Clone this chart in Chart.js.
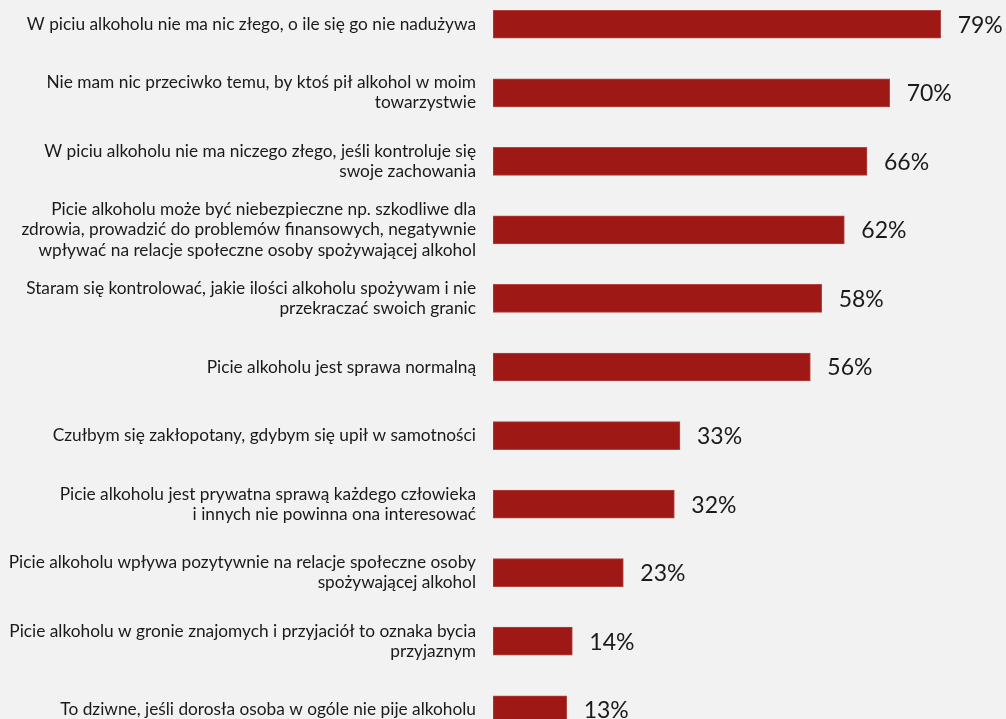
<!DOCTYPE html>
<html lang="pl">
<head>
    <meta charset="UTF-8">
    <title>Postawy wobec alkoholu</title>
    <script src="https://cdn.jsdelivr.net/npm/chart.js"></script>
    <style>
        html, body {
            margin: 0;
            padding: 0;
            background-color: #F2F2F2;
            overflow: hidden;
        }
        .wrap {
            position: absolute;
            left: 0;
            top: -10px;
            width: 1006px;
            height: 754px;
        }
    </style>
</head>
<body>

<div class="wrap">
    <canvas id="barChart"></canvas>
</div>

<script>
// Stwierdzenia (kolejne linie = zawijanie tekstu)
const statements = [
    ['W piciu alkoholu nie ma nic złego, o ile się go nie nadużywa'],
    ['Nie mam nic przeciwko temu, by ktoś pił alkohol w moim', 'towarzystwie'],
    ['W piciu alkoholu nie ma niczego złego, jeśli kontroluje się', 'swoje zachowania'],
    ['Picie alkoholu może być niebezpieczne np. szkodliwe dla', 'zdrowia, prowadzić do problemów finansowych, negatywnie', 'wpływać na relacje społeczne osoby spożywającej alkohol'],
    ['Staram się kontrolować, jakie ilości alkoholu spożywam i nie', 'przekraczać swoich granic'],
    ['Picie alkoholu jest sprawa normalną'],
    ['Czułbym się zakłopotany, gdybym się upił w samotności'],
    ['Picie alkoholu jest prywatna sprawą każdego człowieka', 'i innych nie powinna ona interesować'],
    ['Picie alkoholu wpływa pozytywnie na relacje społeczne osoby', 'spożywającej alkohol'],
    ['Picie alkoholu w gronie znajomych i przyjaciół to oznaka bycia', 'przyjaznym'],
    ['To dziwne, jeśli dorosła osoba w ogóle nie pije alkoholu']
];

// Odsetek odpowiedzi (%)
const shares = [79, 70, 66, 62, 58, 56, 33, 32, 23, 14, 13];

// Wartości obok słupków
const valueLabels = {
    id: 'valueLabels',
    afterDatasetsDraw(chart) {
        const ctx = chart.ctx;
        const meta = chart.getDatasetMeta(0);
        ctx.save();
        ctx.font = '23px Lato';
        ctx.fillStyle = '#1a1a1a';
        ctx.textAlign = 'left';
        ctx.textBaseline = 'middle';
        meta.data.forEach(function(bar, i) {
            ctx.fillText(shares[i] + '%', bar.x + 17, bar.y + 1);
        });
        ctx.restore();
    }
};

new Chart(document.getElementById('barChart'), {
    type: 'bar',
    data: {
        labels: statements,
        datasets: [{
            data: shares,
            backgroundColor: '#9E1815',
            borderColor: '#B44442',
            borderWidth: 1,
            borderSkipped: false,
            barThickness: 28
        }]
    },
    options: {
        indexAxis: 'y',
        responsive: true,
        maintainAspectRatio: false,
        animation: false,
        layout: {
            padding: { left: 0, right: 3, top: 0, bottom: 0 }
        },
        plugins: {
            legend: { display: false },
            tooltip: { enabled: false }
        },
        scales: {
            x: {
                display: false,
                min: 0,
                max: 90
            },
            y: {
                grid: { display: false, drawTicks: false },
                border: { display: false },
                ticks: {
                    padding: 17,
                    color: '#1a1a1a',
                    font: { family: 'Lato', size: 17.3, lineHeight: 1.16 }
                },
                afterFit: function(axis) {
                    // stała szerokość kolumny z opisami, bez dodatkowych marginesów
                    axis.width = 493;
                    axis.paddingTop = 0;
                    axis.paddingBottom = 0;
                }
            }
        }
    },
    plugins: [valueLabels]
});
</script>

</body>
</html>
